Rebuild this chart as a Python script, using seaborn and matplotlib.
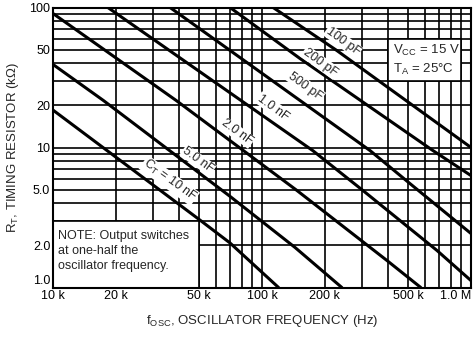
import pandas as pd
import matplotlib
matplotlib.use("Agg")
import matplotlib.pyplot as plt
import seaborn as sns
from matplotlib.patches import Rectangle
from matplotlib.ticker import FixedLocator, FixedFormatter, LogLocator, NullFormatter

# Curves: oscillator frequency (Hz) vs timing resistor (kOhm)
freq_10n = [10e3, 50.5e3, 70.3e3, 120e3]
rt_10n = [18.5, 3.03, 2.08, 1.0]
freq_5n = [10e3, 17.4e3, 70e3, 144e3, 241e3]
rt_5n = [39.2, 21.7, 4.5, 1.93, 1.0]
freq_2n = [10e3, 38.8e3, 147e3, 396e3, 575e3]
rt_2n = [90.6, 21.7, 4.93, 1.56, 1.0]
freq_1n = [18.3e3, 175e3, 304e3, 687e3, 1e6]
rt_1n = [100, 9.5, 4.93, 1.84, 1.12]
freq_500p = [36.3e3, 329e3, 510e3, 1e6]
rt_500p = [100, 9.5, 5.53, 2.43]
freq_200p = [70.3e3, 152e3, 658e3, 1e6]
rt_200p = [100, 43.2, 9.5, 6.3]
freq_100p = [113e3, 228e3, 1e6]
rt_100p = [100, 49.3, 10]

ct_names = ['10 nF', '5.0 nF', '2.0 nF', '1.0 nF', '500 pF', '200 pF', '100 pF']
curve_freqs = [freq_10n, freq_5n, freq_2n, freq_1n, freq_500p, freq_200p, freq_100p]
curve_rts = [rt_10n, rt_5n, rt_2n, rt_1n, rt_500p, rt_200p, rt_100p]

# Curve labels and where they sit (freq, R)
label_texts = ['C$_{\\mathregular{T}}$ = 10 nF', '5.0 nF', '2.0 nF', '1.0 nF', '500 pF', '200 pF', '100 pF']
label_freq = [36e3, 49.4e3, 75.9e3, 113e3, 162e3, 190e3, 244e3]
label_rt = [5.8, 8.1, 12.8, 19.3, 27.3, 40.5, 57.2]

x_ticks = [10e3, 20e3, 50e3, 100e3, 200e3, 500e3, 1e6]
x_ticklabels = ['10 k', '20 k', '50 k', '100 k', '200 k', '500 k', '1.0 M']
y_ticks = [1, 2, 5, 10, 20, 50, 100]
y_ticklabels = ['1.0', '2.0', '5.0', '10', '20', '50', '100']

# Build long table for seaborn
rows = []
for name, fs, rs in zip(ct_names, curve_freqs, curve_rts):
    for f, r in zip(fs, rs):
        rows.append({'CT': name, 'freq': f, 'rt': r})
df = pd.DataFrame(rows)

sns.set_style("ticks")
plt.rcParams['font.family'] = ['Liberation Sans', 'DejaVu Sans']
plt.rcParams['mathtext.default'] = 'regular'

fig = plt.figure(figsize=(4.73, 3.37), dpi=100)
ax = fig.add_axes([53 / 473, 1 - 287.5 / 337, 418 / 473, 280 / 337])

ax.set_xscale('log')
ax.set_yscale('log')
ax.set_xlim(10e3, 1e6)
ax.set_ylim(1, 100)

sns.lineplot(data=df, x='freq', y='rt', hue='CT', units='CT', estimator=None, sort=False,
             palette={n: 'black' for n in ct_names}, linewidth=2.2, legend=False, ax=ax, zorder=3)

ax.set_axisbelow(True)
ax.xaxis.set_major_locator(FixedLocator(x_ticks))
ax.xaxis.set_major_formatter(FixedFormatter(x_ticklabels))
ax.yaxis.set_major_locator(FixedLocator(y_ticks))
ax.yaxis.set_major_formatter(FixedFormatter(y_ticklabels))
ax.xaxis.set_minor_locator(LogLocator(base=10, subs=range(1, 10)))
ax.yaxis.set_minor_locator(LogLocator(base=10, subs=range(1, 10)))
ax.xaxis.set_minor_formatter(NullFormatter())
ax.yaxis.set_minor_formatter(NullFormatter())
ax.grid(which='both', color='black', linewidth=1.2)
ax.tick_params(which='both', length=0, pad=2, labelsize=9, colors='black')

# keep the corner labels clear of each other and of the figure edge
ax.yaxis.get_major_ticks()[0].label1.set_va('bottom')
ax.xaxis.get_major_ticks()[-1].label1.set_ha('right')

for sp in ax.spines.values():
    sp.set_linewidth(1.5)
    sp.set_color('black')

# white boxes cut out of the grid
ax.add_patch(Rectangle((10e3, 1), 40e3, 2, facecolor='white', edgecolor='black', linewidth=1.2, zorder=1))
ax.add_patch(Rectangle((400e3, 30), 500e3, 30, facecolor='white', edgecolor='black', linewidth=1.2, zorder=1))

for txt, f, r in zip(label_texts, label_freq, label_rt):
    ax.text(f, r, txt, rotation=-36, ha='center', va='center', fontsize=9, zorder=5,
            rotation_mode='anchor',
            bbox=dict(facecolor='white', edgecolor='none', pad=0.5))

ax.text(0.013, 0.205, 'NOTE: Output switches\nat one-half the\noscillator frequency.',
        transform=ax.transAxes, ha='left', va='top', fontsize=9, linespacing=1.35, zorder=5)
ax.text(0.813, 0.848, 'V$_{\\mathregular{CC}}$ = 15 V', transform=ax.transAxes,
        ha='left', va='center', fontsize=9.5, zorder=5)
ax.text(0.813, 0.777, 'T$_{\\mathregular{A}}$ = 25°C', transform=ax.transAxes,
        ha='left', va='center', fontsize=9.5, zorder=5)

ax.set_xlabel('f$_{\\mathregular{OSC}}$, OSCILLATOR FREQUENCY (Hz)', fontsize=9.5, labelpad=8)
ax.set_ylabel('R$_{\\mathregular{T}}$, TIMING RESISTOR (kΩ)', fontsize=9.5, labelpad=6)

fig.savefig('out.png', dpi=100)
